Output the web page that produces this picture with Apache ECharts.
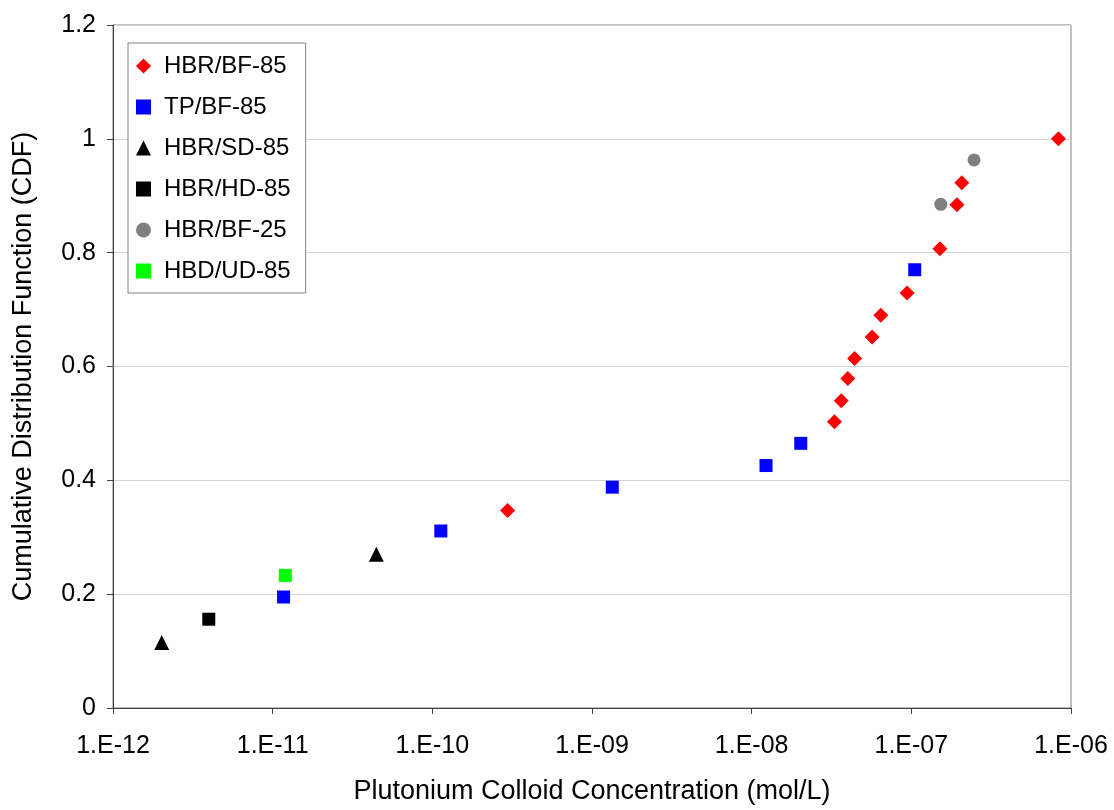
<!DOCTYPE html>
<html>
<head>
<meta charset="utf-8">
<script src="https://cdn.jsdelivr.net/npm/echarts@6/dist/echarts.min.js"></script>
<style>
html,body{margin:0;padding:0;background:#fff;overflow:hidden;}
#chart{width:1114px;height:810px;}
</style>
</head>
<body>
<div id="chart"></div>
<script>
// ---- data (x = concentration mol/L, y = CDF) ----
const seriesNames = ['HBR/BF-85', 'TP/BF-85', 'HBR/SD-85', 'HBR/HD-85', 'HBR/BF-25', 'HBD/UD-85'];
const hbrBf85 = [[2.96e-10, 0.347], [3.30e-8, 0.503], [3.64e-8, 0.540], [4.0e-8, 0.579], [4.41e-8, 0.614],
                 [5.68e-8, 0.652], [6.44e-8, 0.690], [9.4e-8, 0.729], [1.51e-7, 0.807], [1.93e-7, 0.884],
                 [2.07e-7, 0.923], [8.34e-7, 1.0]];
const tpBf85 = [[1.17e-11, 0.195], [1.13e-10, 0.311], [1.34e-9, 0.388], [1.23e-8, 0.426], [2.03e-8, 0.465], [1.05e-7, 0.770]];
const hbrSd85 = [[2.02e-12, 0.115], [4.46e-11, 0.270]];
const hbrHd85 = [[3.98e-12, 0.156]];
const hbrBf25 = [[1.53e-7, 0.885], [2.47e-7, 0.963]];
const hbdUd85 = [[1.2e-11, 0.233]];
const xTickExponents = [-12, -11, -10, -9, -8, -7, -6];
const xTickLabels = ['1.E-12', '1.E-11', '1.E-10', '1.E-09', '1.E-08', '1.E-07', '1.E-06'];
const yTickLabels = ['0', '0.2', '0.4', '0.6', '0.8', '1', '1.2'];

const FONT = "'Liberation Sans', Arial, sans-serif";
const chart = echarts.init(document.getElementById('chart'), null, {renderer: 'canvas'});

function mk(name, data, symbol, size, color) {
  return {
    name: name, type: 'scatter', data: data, symbol: symbol, symbolSize: size,
    itemStyle: {color: color, opacity: 1}, emphasis: {disabled: true}, z: 3
  };
}

chart.setOption({
  animation: false,
  backgroundColor: '#ffffff',
  grid: {left: 113, right: 43, top: 25, bottom: 98, show: true, borderColor: '#808080', borderWidth: 1, backgroundColor: 'transparent'},
  legend: {
    orient: 'vertical', left: 128, top: 43,
    padding: [11, 15, 10, 8],
    itemWidth: 15, itemHeight: 15, itemGap: 17,
    backgroundColor: '#ffffff', borderColor: '#808080', borderWidth: 1, borderRadius: 0,
    textStyle: {fontFamily: FONT, fontSize: 24, color: '#000', lineHeight: 24, padding: [0, 0, 0, 8]},
    data: seriesNames
  },
  xAxis: {
    type: 'log', logBase: 10, min: 1e-12, max: 1e-6, interval: 1,
    name: 'Plutonium Colloid Concentration (mol/L)', nameLocation: 'middle', nameGap: 70,
    nameTextStyle: {fontFamily: FONT, fontSize: 27, color: '#000'},
    axisLine: {show: true, lineStyle: {color: '#404040', width: 1}},
    axisTick: {show: true, inside: false, length: 6, lineStyle: {color: '#404040'}},
    axisLabel: {
      fontFamily: FONT, fontSize: 25, color: '#000', margin: 26,
      formatter: function (v) {
        const e = Math.round(Math.log10(v));
        const i = xTickExponents.indexOf(e);
        return i >= 0 ? xTickLabels[i] : '';
      }
    },
    splitLine: {show: false}, minorTick: {show: false}
  },
  yAxis: {
    type: 'value', min: 0, max: 1.2, interval: 0.2,
    name: 'Cumulative Distribution Function (CDF)', nameLocation: 'middle', nameGap: 76,
    nameTextStyle: {fontFamily: FONT, fontSize: 27, color: '#000'},
    axisLine: {show: true, lineStyle: {color: '#404040', width: 1}},
    axisTick: {show: true, inside: false, length: 6, lineStyle: {color: '#404040'}},
    axisLabel: {
      fontFamily: FONT, fontSize: 25, color: '#000', margin: 17,
      formatter: function (v) { return yTickLabels[Math.round(v / 0.2)]; }
    },
    splitLine: {show: true, lineStyle: {color: '#d4d4d4', width: 1}}
  },
  series: [
    mk('HBR/BF-85', hbrBf85, 'diamond', 15, '#ff0000'),
    mk('TP/BF-85', tpBf85, 'rect', 13, '#0000ff'),
    mk('HBR/SD-85', hbrSd85, 'triangle', 15, '#000000'),
    mk('HBR/HD-85', hbrHd85, 'rect', 13, '#000000'),
    mk('HBR/BF-25', hbrBf25, 'circle', 13, '#808080'),
    mk('HBD/UD-85', hbdUd85, 'rect', 13, '#00ff00')
  ]
});
</script>
</body>
</html>
